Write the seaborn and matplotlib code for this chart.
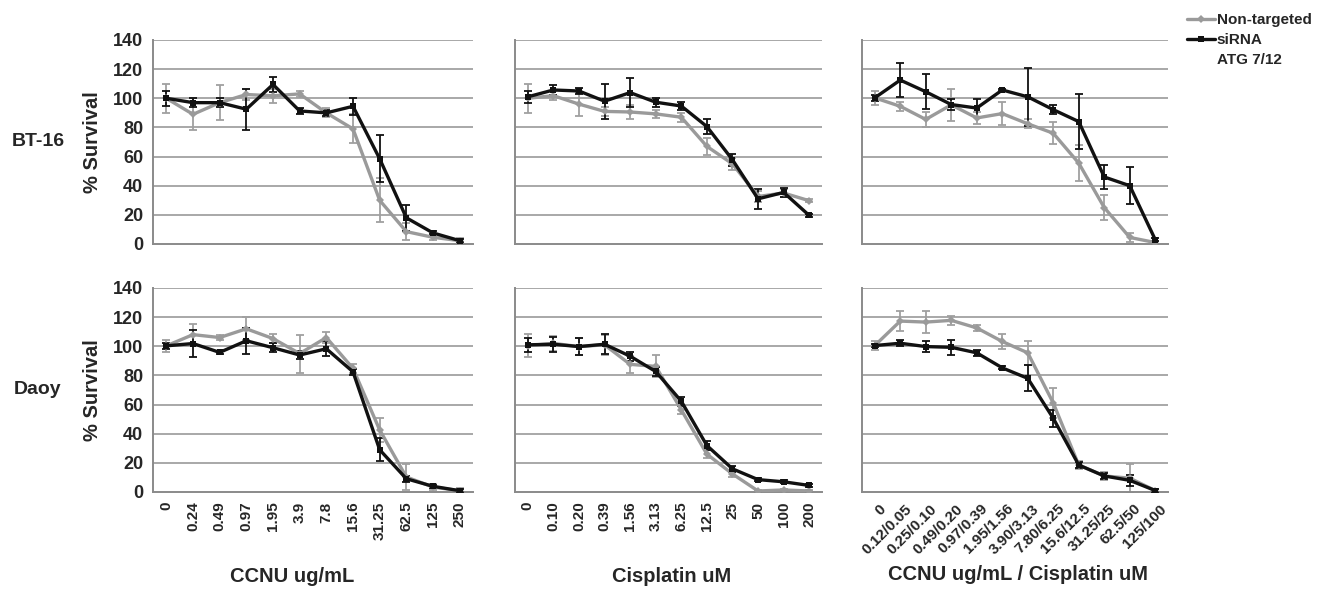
import matplotlib
matplotlib.use("Agg")
import matplotlib.pyplot as plt
import matplotlib.transforms as mtransforms
import seaborn as sns
import numpy as np
import pandas as pd
from matplotlib.lines import Line2D

# ---------------- data ----------------
ccnu_labels = ["0", "0.24", "0.49", "0.97", "1.95", "3.9", "7.8", "15.6", "31.25", "62.5", "125", "250"]
cis_labels = ["0", "0.10", "0.20", "0.39", "1.56", "3.13", "6.25", "12.5", "25", "50", "100", "200"]
combo_labels = ["0", "0.12/0.05", "0.25/0.10", "0.49/0.20", "0.97/0.39", "1.95/1.56", "3.90/3.13",
                "7.80/6.25", "15.6/12.5", "31.25/25", "62.5/50", "125/100"]

series_names = ["Non-targeted", "siRNA ATG 7/12"]

bt16_ccnu_nt = [100, 89, 97, 102.6, 101.7, 103, 90, 79, 30, 8.5, 4.6, 2.3]
bt16_ccnu_nt_err = [10, 11, 12, 4, 5, 2, 3, 10, 15, 6, 2, 2]
bt16_ccnu_si = [100, 97, 97, 92.5, 109.5, 91.3, 90, 94.5, 58.5, 18, 7.6, 2.3]
bt16_ccnu_si_err = [5, 3, 3, 14, 5, 2, 2, 6, 16, 9, 1, 1]

bt16_cis_nt = [100, 101.8, 96, 91, 90.6, 89.3, 87, 67, 55, 32.6, 35, 29.7]
bt16_cis_nt_err = [10, 3, 8, 3, 5, 3, 3, 6, 4, 4, 3, 1]
bt16_cis_si = [101, 105.7, 105, 98, 103.9, 97.3, 94.7, 80.6, 57.8, 31, 35.4, 19.6]
bt16_cis_si_err = [4, 3.5, 2, 12, 10, 3, 3, 5, 4, 7, 3, 1]

bt16_combo_nt = [100.3, 94.5, 85.5, 95.5, 86.5, 89.5, 82.5, 76, 55.5, 25, 4.5, 1]
bt16_combo_nt_err = [5, 3, 5, 11, 4, 8, 3, 7.5, 12.5, 8.5, 3, 1]
bt16_combo_si = [100.3, 112.5, 104.5, 95.7, 93.3, 105.7, 101, 92.2, 84, 46, 40, 3]
bt16_combo_si_err = [2, 11.5, 12, 4, 6, 1, 20, 3, 19, 8, 12.5, 1]

daoy_ccnu_nt = [100.3, 108, 106, 112, 105.3, 95, 106, 84.8, 42.6, 10.3, 3.4, 0.9]
daoy_ccnu_nt_err = [4, 7, 2, 8, 3, 13, 4, 3, 8, 9, 2, 2]
daoy_ccnu_si = [100.3, 101.9, 95.8, 103.8, 99, 94, 98.3, 82.5, 29, 9.1, 3.9, 0.9]
daoy_ccnu_si_err = [2, 9, 1, 9, 3, 3, 5, 2, 8, 2, 1, 1]

daoy_cis_nt = [100.5, 102, 99.8, 101, 87.6, 86.2, 56.4, 26, 12.4, 0.7, 1.4, 0.7]
daoy_cis_nt_err = [8, 5, 6, 7, 6, 7.5, 3, 3, 2, 1, 1, 1]
daoy_cis_si = [101, 101.4, 99.8, 101.4, 93.2, 82.7, 62.3, 31.9, 15.9, 8.5, 7, 4.5]
daoy_cis_si_err = [5, 5, 6, 7, 3, 3, 3, 3, 2, 1, 1, 1]

daoy_combo_nt = [100.5, 117.3, 116.6, 117.8, 112.6, 103.3, 95.5, 61.1, 18.5, 11, 9.5, 1]
daoy_combo_nt_err = [3, 6.7, 7.5, 3, 2, 5, 8, 10.5, 3, 3, 10, 1]
daoy_combo_si = [100.5, 102.1, 99.8, 99.3, 95.5, 85.2, 78, 50.6, 18.5, 11, 8, 1]
daoy_combo_si_err = [1, 2, 4, 5, 2, 1, 9, 6, 2, 2, 4, 1]

row_names = ["BT-16", "Daoy"]
x_titles = ["CCNU ug/mL", "Cisplatin uM", "CCNU ug/mL / Cisplatin uM"]
y_ticks = [0, 20, 40, 60, 80, 100, 120, 140]

panels = [
    [(ccnu_labels, bt16_ccnu_nt, bt16_ccnu_nt_err, bt16_ccnu_si, bt16_ccnu_si_err),
     (cis_labels, bt16_cis_nt, bt16_cis_nt_err, bt16_cis_si, bt16_cis_si_err),
     (combo_labels, bt16_combo_nt, bt16_combo_nt_err, bt16_combo_si, bt16_combo_si_err)],
    [(ccnu_labels, daoy_ccnu_nt, daoy_ccnu_nt_err, daoy_ccnu_si, daoy_ccnu_si_err),
     (cis_labels, daoy_cis_nt, daoy_cis_nt_err, daoy_cis_si, daoy_cis_si_err),
     (combo_labels, daoy_combo_nt, daoy_combo_nt_err, daoy_combo_si, daoy_combo_si_err)],
]

# ---------------- style ----------------
sns.set_style("white")
plt.rcParams["font.family"] = ["Liberation Sans", "DejaVu Sans"]
plt.rcParams["font.weight"] = "bold"

GRAY = "#9a9a9a"
BLACK = "#111111"
AXC = "#8a8a8a"
palette = {series_names[0]: GRAY, series_names[1]: BLACK}
markers = {series_names[0]: "D", series_names[1]: "s"}

W, H = 1327, 590
fig = plt.figure(figsize=(W / 100, H / 100), dpi=100)

col_px = [(153, 473), (515, 822), (862, 1168)]
row_px = [(40, 244), (288, 492)]

for r in range(2):
    for c in range(3):
        x0, x1 = col_px[c]
        y0, y1 = row_px[r]
        ax = fig.add_axes([x0 / W, 1 - y1 / H, (x1 - x0) / W, (y1 - y0) / H])
        labels, nt, nt_err, si, si_err = panels[r][c]
        n = len(labels)
        xs = np.arange(n)
        df = pd.DataFrame({
            "x": np.concatenate([xs, xs]),
            "y": np.concatenate([nt, si]),
            "group": [series_names[0]] * n + [series_names[1]] * n,
        })
        for yt in y_ticks[1:]:
            ax.axhline(yt, color="#a8a8a8", lw=1.4, zorder=0)
        # error bars
        ax.errorbar(xs, nt, yerr=nt_err, fmt="none", ecolor="#a0a0a0", elinewidth=1.3,
                    capsize=3, capthick=1.3, zorder=2)
        ax.errorbar(xs, si, yerr=si_err, fmt="none", ecolor=BLACK, elinewidth=1.3,
                    capsize=3, capthick=1.3, zorder=3)
        sns.lineplot(data=df, x="x", y="y", hue="group", style="group", palette=palette,
                     markers=markers, dashes=False, lw=2.4, markersize=4.5, markeredgewidth=0,
                     legend=False, ax=ax, zorder=4)
        ax.set_xlim(-0.5, n - 0.5)
        ax.set_ylim(0, 140)
        ax.set_xlabel("")
        ax.set_ylabel("")
        for s in ["top", "right"]:
            ax.spines[s].set_visible(False)
        for s in ["left", "bottom"]:
            ax.spines[s].set_color(AXC)
            ax.spines[s].set_linewidth(1.4)
        ax.set_yticks(y_ticks)
        ax.tick_params(axis="y", direction="out", length=5, width=1.2, color=AXC,
                       labelsize=13, pad=2)
        if c == 0:
            ax.set_yticklabels([str(v) for v in y_ticks], fontweight="bold")
        else:
            ax.set_yticklabels([])
        ax.set_xticks(np.arange(-0.5, n, 1.0))
        ax.set_xticklabels([])
        ax.tick_params(axis="x", which="major", direction="out", length=5, width=1.2, color=AXC)
        ax.set_xticks(xs, minor=True)
        if r == 1:
            if c < 2:
                ax.set_xticklabels(labels, minor=True, rotation=90, fontsize=11,
                                   fontweight="bold")
                ax.tick_params(axis="x", which="minor", length=0, pad=7)
            else:
                ax.set_xticklabels(labels, minor=True, rotation=45, ha="right",
                                   rotation_mode="anchor", fontsize=11, fontweight="bold")
                ax.tick_params(axis="x", which="minor", length=0, pad=7)
                shift = mtransforms.ScaledTranslation(0.04, 0, fig.dpi_scale_trans)
                for lab in ax.get_xticklabels(minor=True):
                    lab.set_transform(lab.get_transform() + shift)
        else:
            ax.tick_params(axis="x", which="minor", length=0, labelbottom=False)

        if c == 0:
            yc = 1 - (y0 + y1) / 2 / H
            fig.text(92 / W, yc, "% Survival", rotation=90, ha="center", va="center",
                     fontsize=14.5, fontweight="bold")
            fig.text(38 / W, yc, row_names[r], ha="center", va="center",
                     fontsize=14, fontweight="bold")

# x titles
fig.text(292 / W, 1 - 577 / H, x_titles[0], ha="center", va="center", fontsize=14.5, fontweight="bold")
fig.text(672 / W, 1 - 577 / H, x_titles[1], ha="center", va="center", fontsize=14.5, fontweight="bold")
fig.text(1018 / W, 1 - 574 / H, x_titles[2], ha="center", va="center", fontsize=14.5, fontweight="bold")

# legend
handles = [
    Line2D([], [], color=GRAY, lw=2.4, marker="D", markersize=4, markeredgewidth=0),
    Line2D([], [], color=BLACK, lw=2.4, marker="s", markersize=4, markeredgewidth=0),
    Line2D([], [], color="none", lw=0),
]
leg = fig.legend(handles, ["Non-targeted", "siRNA", "ATG 7/12"], loc="upper left",
                 bbox_to_anchor=(1187 / W, 1 - 13 / H), frameon=False, fontsize=11,
                 handlelength=1.8, handletextpad=0.15, labelspacing=0.4, borderpad=0,
                 borderaxespad=0)
for t in leg.get_texts():
    t.set_fontweight("bold")

fig.savefig("out.png", dpi=100)
